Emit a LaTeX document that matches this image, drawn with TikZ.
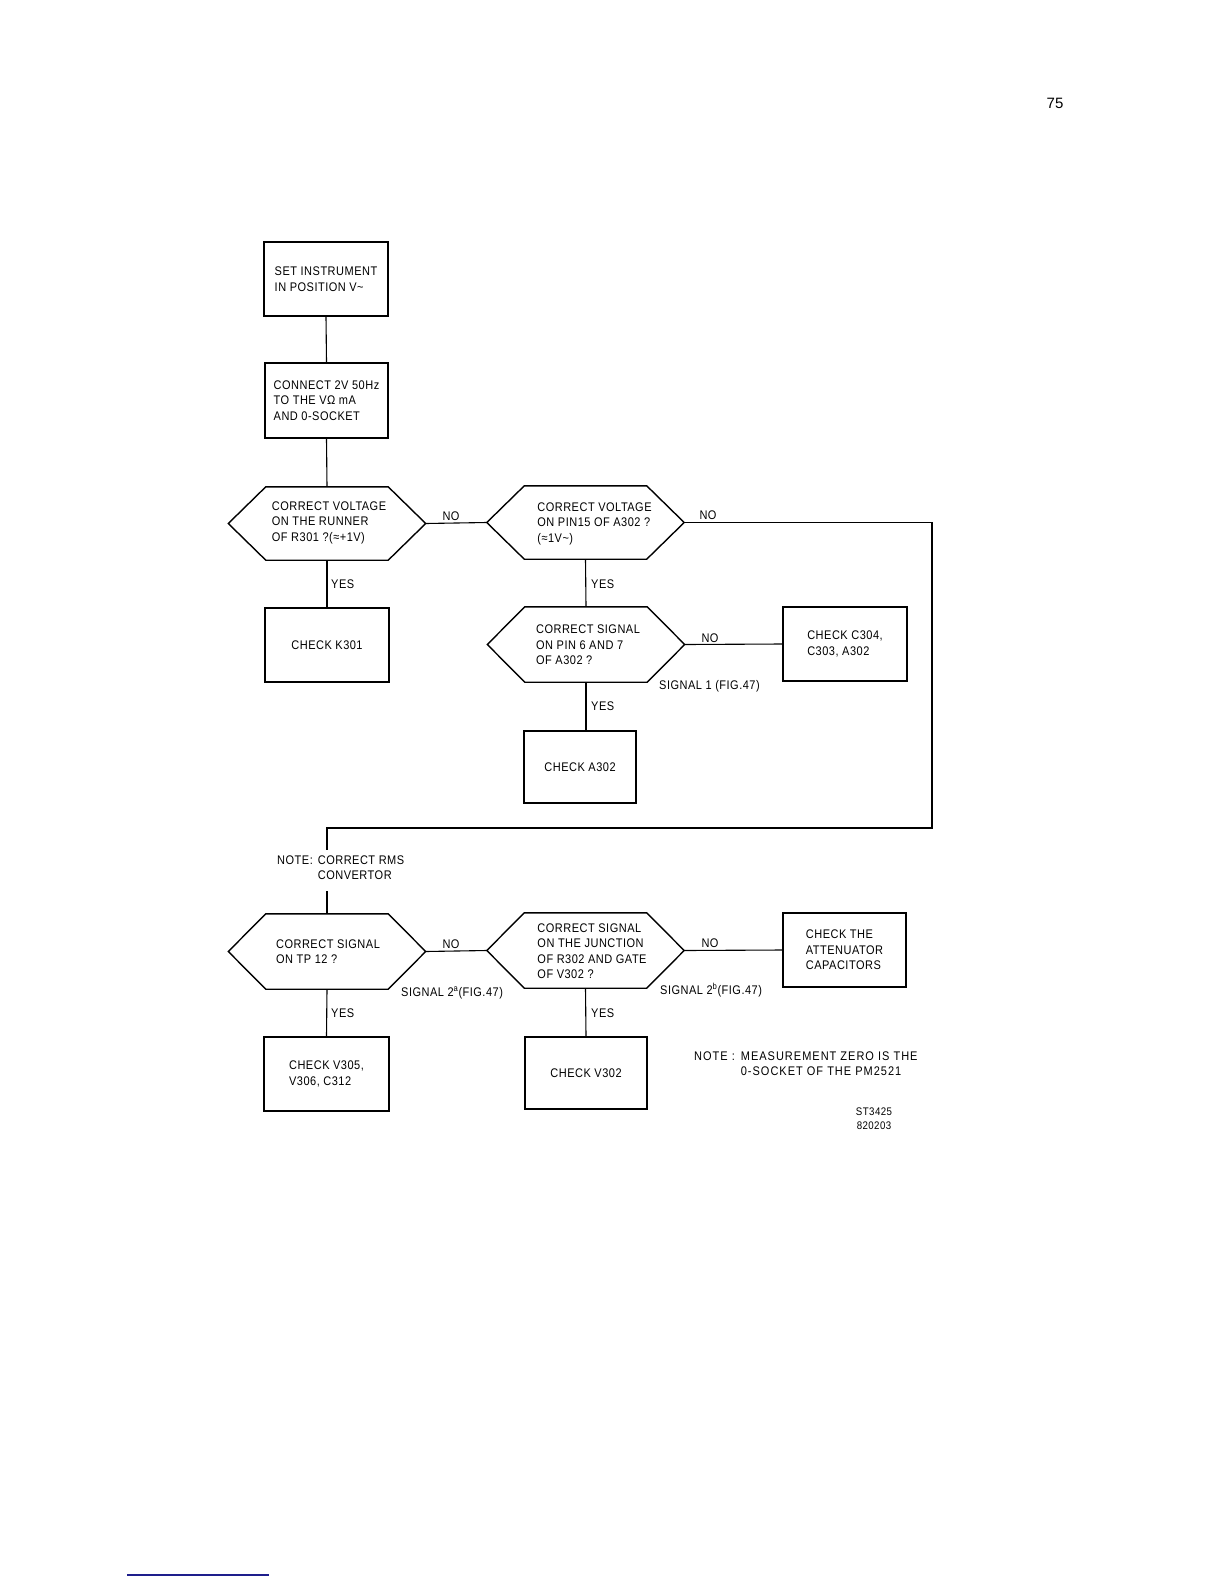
\documentclass[tikz,border=0pt]{standalone}
\usepackage{fontspec}
\setmainfont{Liberation Sans}[FakeStretch=0.88,LetterSpace=4]
\newfontfamily\pagefont{Liberation Sans}
\usetikzlibrary{calc}
\definecolor{scanblue}{RGB}{30,30,140}
\newcommand\hexshape[1]{\draw[line width=1.4pt] (#1.west) -- ([xshift=37.5pt]#1.north west) -- ([xshift=-37.5pt]#1.north east) -- (#1.east) -- ([xshift=-37.5pt]#1.south east) -- ([xshift=37.5pt]#1.south west) -- cycle;}
\begin{document}
\begin{tikzpicture}[x=1pt,y=-1pt,
  every node/.style={font=\fontsize{12.5}{15.5}\selectfont},
  box/.style={draw, line width=1.4pt, inner sep=0pt, align=left},
  hexbox/.style={inner sep=0pt, minimum width=197pt},
  txt/.style={inner sep=0pt, align=left},
  wire/.style={line width=1.1pt},
  lbl/.style={inner sep=0pt}
]
\useasboundingbox[fill=white] (0,0) rectangle (1224,1584);

% page number
\node[lbl, font=\pagefont\fontsize{15}{18}\selectfont] (pg) at (1055,103) {75};

% top boxes
\node[box, minimum width=124pt, minimum height=74pt] (b1) at (326,279) {SET INSTRUMENT\\IN POSITION V\symbol{126}};
\node[box, minimum width=123pt, minimum height=75pt] (b2) at (326.5,400.5) {CONNECT 2V 50Hz\\TO THE VΩ mA\\AND 0-SOCKET};

% hexagons
\node[hexbox, minimum height=73pt] (h1) at (327,523.5) {};
\hexshape{h1}
\node[txt] (h1t) at (329,522.5) {CORRECT VOLTAGE\\ON THE RUNNER\\OF R301 ?(≈+1V)};

\node[hexbox, minimum height=73pt] (h2) at (585.5,522.5) {};
\hexshape{h2}
\node[txt] (h2t) at (594.5,523.5) {CORRECT VOLTAGE\\ON PIN15 OF A302 ?\\(≈1V\symbol{126})};

\node[hexbox, minimum height=75pt] (h3) at (586,644.5) {};
\hexshape{h3}
\node[txt] (h3t) at (588,645) {CORRECT SIGNAL\\ON PIN 6 AND 7\\OF A302 ?};

\node[hexbox, minimum height=75pt] (h4) at (327,951.5) {};
\hexshape{h4}
\node[txt] (h4t) at (328,951.5) {CORRECT SIGNAL\\ON TP 12 ?};

\node[hexbox, minimum height=75pt] (h5) at (585.5,950.5) {};
\hexshape{h5}
\node[txt] (h5t) at (592,951) {CORRECT SIGNAL\\ON THE JUNCTION\\OF R302 AND GATE\\OF V302 ?};

% result boxes
\node[box, minimum width=124pt, minimum height=74pt] (k301) at (327,645) {CHECK K301};
\node[box, minimum width=112pt, minimum height=72pt] (a302) at (580,767) {CHECK A302};
\node[box, minimum width=124pt, minimum height=74pt] (c304) at (845,644) {CHECK C304,\\C303, A302};
\node[box, minimum width=125pt, minimum height=74pt] (v305) at (326.5,1074) {CHECK V305,\\V306, C312};
\node[box, minimum width=122pt, minimum height=72pt] (v302) at (586,1073) {CHECK V302};
\node[box, minimum width=123pt, minimum height=74pt] (att) at (844.5,950) {CHECK THE\\ATTENUATOR\\CAPACITORS};

% connectors
\draw[wire] (b1.south) -- (b2.north);
\draw[wire] (b2.south) -- (h1.north);
\draw[wire] (h1.east) -- (h2.west);
\draw[wire] (h1.south) -- (k301.north);
\draw[wire] (h2.south) -- (h3.north);
\draw[wire] (h3.east) -- (c304.west);
\draw[wire] (h3.south) -- (h3.south |- a302.north);
\coordinate (rr) at (932,828);
\coordinate (n1) at (327,850);
\coordinate (n2) at (327,891);
\draw[wire] (h2.east) -| (rr) -| (n1);
\draw[wire] (n2) -- (h4.north);
\draw[wire] (h4.east) -- (h5.west);
\draw[wire] (h4.south) -- (v305.north);
\draw[wire] (h5.east) -- (att.west);
\draw[wire] (h5.south) -- (v302.north);

% labels
\node[lbl] (no1) at (451,516) {NO};
\node[lbl] (no2) at (708,515) {NO};
\node[lbl] (no3) at (710,638) {NO};
\node[lbl] (no4) at (451,944) {NO};
\node[lbl] (no5) at (710,943) {NO};
\node[lbl, anchor=west] (yes1) at (331,584) {YES};
\node[lbl, anchor=west] (yes2) at (591,584) {YES};
\node[lbl, anchor=west] (yes3) at (591,706) {YES};
\node[lbl, anchor=west] (yes4) at (331,1013) {YES};
\node[lbl, anchor=west] (yes5) at (591,1013) {YES};
\node[lbl, anchor=west] (sig1) at (659,686) {SIGNAL 1 (FIG.47)};
\node[lbl, anchor=west] (sig2a) at (401,993) {SIGNAL 2\textsuperscript{a}(FIG.47)};
\node[lbl, anchor=west] (sig2b) at (660,990) {SIGNAL 2\textsuperscript{b}(FIG.47)};

\node[lbl, anchor=west] (note1) at (277,869) {\begin{tabular}{@{}l@{\hspace{5pt}}l@{}}NOTE:&CORRECT RMS\\&CONVERTOR\end{tabular}};
\node[lbl, anchor=west] (note2) at (694,1065) {\addfontfeatures{LetterSpace=8}\begin{tabular}{@{}l@{\hspace{6pt}}l@{}}NOTE :&MEASUREMENT ZERO IS THE\\&0-SOCKET OF THE PM2521\end{tabular}};
\node[lbl, align=center, font=\fontsize{11}{14}\selectfont] (st) at (874,1119) {ST3425\\820203};

% scan mark at page foot
\draw[line width=1.5pt, scanblue] (127,1575) -- (269,1575);
\end{tikzpicture}
\end{document}
